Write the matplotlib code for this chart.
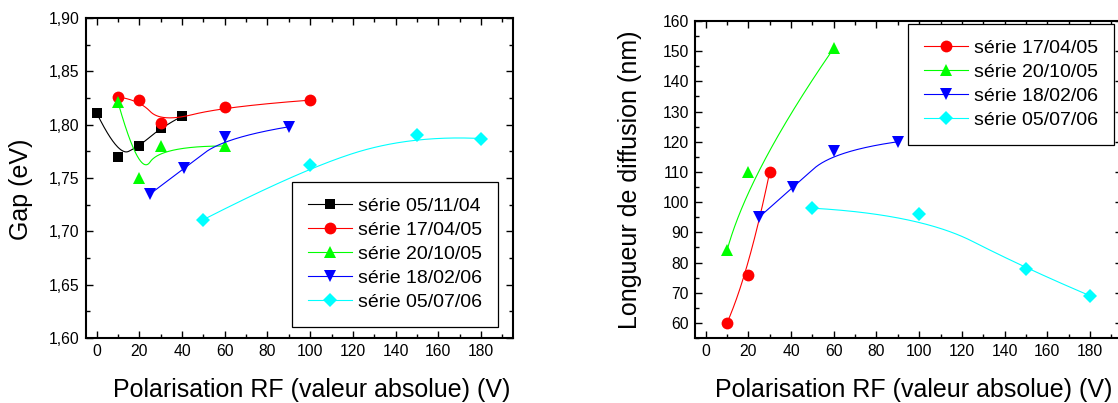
import numpy as np
import matplotlib
matplotlib.use("Agg")
import matplotlib.pyplot as plt
from matplotlib.lines import Line2D
from matplotlib.ticker import MultipleLocator

plt.rcParams['font.family'] = ['Liberation Sans', 'DejaVu Sans']

# Gap (eV) en fonction de la polarisation RF
gap_series = ["série 05/11/04", "série 17/04/05", "série 20/10/05", "série 18/02/06", "série 05/07/06"]
gap_x = [
    [0, 10, 20, 30, 40],
    [10, 20, 30, 60, 100],
    [10, 20, 30, 60],
    [25, 41, 60, 90],
    [50, 100, 150, 180],
]
gap_y = [
    [1.811, 1.770, 1.780, 1.797, 1.808],
    [1.826, 1.823, 1.802, 1.817, 1.823],
    [1.821, 1.750, 1.780, 1.780],
    [1.735, 1.759, 1.788, 1.798],
    [1.711, 1.762, 1.790, 1.787],
]
gap_ticks = [1.60, 1.65, 1.70, 1.75, 1.80, 1.85, 1.90]
gap_tick_labels = ["1,60", "1,65", "1,70", "1,75", "1,80", "1,85", "1,90"]

# Longueur de diffusion (nm)
diff_series = ["série 17/04/05", "série 20/10/05", "série 18/02/06", "série 05/07/06"]
diff_x = [
    [10, 20, 30],
    [10, 20, 60],
    [25, 41, 60, 90],
    [50, 100, 150, 180],
]
diff_y = [
    [60, 76, 110],
    [84, 110, 151],
    [95, 105, 117, 120],
    [98, 96, 78, 69],
]

x_ticks = [0, 20, 40, 60, 80, 100, 120, 140, 160, 180]

styles = {
    "série 05/11/04": ("black", "s", 7),
    "série 17/04/05": ("red", "o", 8.5),
    "série 20/10/05": ("#00ff00", "^", 9),
    "série 18/02/06": ("blue", "v", 9),
    "série 05/07/06": ("cyan", "D", 6.8),
}


def bspline(x, y, deg=2, num=200):
    # B-spline ouverte (type Origin) avec les points comme points de controle
    pts = np.column_stack([x, y]).astype(float)
    n = len(pts)
    k = min(deg, n - 1)
    knots = np.concatenate([np.zeros(k), np.linspace(0, 1, n - k + 1), np.ones(k)])
    u = np.linspace(0, 1, num)

    def basis(i, p):
        if p == 0:
            b = ((knots[i] <= u) & (u < knots[i + 1])).astype(float)
            if knots[i + 1] == 1 and knots[i] < 1:
                b[u == 1] = 1.0
            return b
        out = np.zeros_like(u)
        d1 = knots[i + p] - knots[i]
        if d1 > 0:
            out += (u - knots[i]) / d1 * basis(i, p - 1)
        d2 = knots[i + p + 1] - knots[i + 1]
        if d2 > 0:
            out += (knots[i + p + 1] - u) / d2 * basis(i + 1, p - 1)
        return out

    B = np.array([basis(i, k) for i in range(n)])
    c = B.T @ pts
    return c[:, 0], c[:, 1]


W, H = 1118, 403
fig = plt.figure(figsize=(W / 100, H / 100), dpi=100)


def px_axes(l, t, r, b):
    return fig.add_axes([l / W, 1 - b / H, (r - l) / W, (b - t) / H])


def style_axes(ax, ymajor, yminor):
    ax.set_xlim(-5, 195)
    ax.set_xticks(x_ticks)
    ax.xaxis.set_minor_locator(MultipleLocator(10))
    ax.yaxis.set_major_locator(MultipleLocator(ymajor))
    ax.yaxis.set_minor_locator(MultipleLocator(yminor))
    ax.tick_params(which='both', direction='in', top=True, right=True, width=1, labelsize=11.3, pad=4.5)
    ax.tick_params(which='major', length=5)
    ax.tick_params(which='minor', length=3)
    for s in ax.spines.values():
        s.set_linewidth(1.5)


def draw(ax, names, xs, ys):
    handles = []
    for name, x, y in zip(names, xs, ys):
        col, mk, ms = styles[name]
        cx, cy = bspline(x, y)
        ax.plot(cx, cy, color=col, lw=0.8)
        ax.plot(x, y, ls='none', marker=mk, ms=ms, color=col, mec=col, mew=0)
        handles.append(Line2D([], [], color=col, lw=0.8, marker=mk, ms=ms, mec=col, mew=0))
    return handles


def add_legend(ax, handles, labels, x0, y0):
    leg = ax.legend(handles, labels, loc='upper left', bbox_to_anchor=(x0 / W, 1 - y0 / H),
                    bbox_transform=fig.transFigure, fontsize=14, frameon=True, fancybox=False,
                    edgecolor='black', framealpha=1, handlelength=2.3, handletextpad=0.3,
                    labelspacing=0.33, borderpad=0.8, borderaxespad=0, numpoints=1)
    leg.get_frame().set_linewidth(0.9)
    return leg


ax1 = px_axes(86, 18, 513, 338)
h1 = draw(ax1, gap_series, gap_x, gap_y)
style_axes(ax1, 0.05, 0.025)
ax1.set_ylim(1.60, 1.90)
ax1.set_yticks(gap_ticks)
ax1.set_yticklabels(gap_tick_labels)
ax1.set_xlabel("Polarisation RF (valeur absolue) (V)", fontsize=18)
ax1.xaxis.set_label_coords(0.528, -0.125)
ax1.set_ylabel("Gap (eV)", fontsize=18)
ax1.yaxis.set_label_coords(-0.124, 0.465)
add_legend(ax1, h1, gap_series, 292, 182)

ax2 = px_axes(695, 21, 1122, 338)
h2 = draw(ax2, diff_series, diff_x, diff_y)
style_axes(ax2, 10, 5)
ax2.set_ylim(55, 160)
ax2.set_xlabel("Polarisation RF (valeur absolue) (V)", fontsize=18)
ax2.xaxis.set_label_coords(0.511, -0.125)
ax2.set_ylabel("Longueur de diffusion (nm)", fontsize=18)
ax2.yaxis.set_label_coords(-0.125, 0.5)
add_legend(ax2, h2, diff_series, 908, 24)

fig.savefig("out.png", dpi=100)
